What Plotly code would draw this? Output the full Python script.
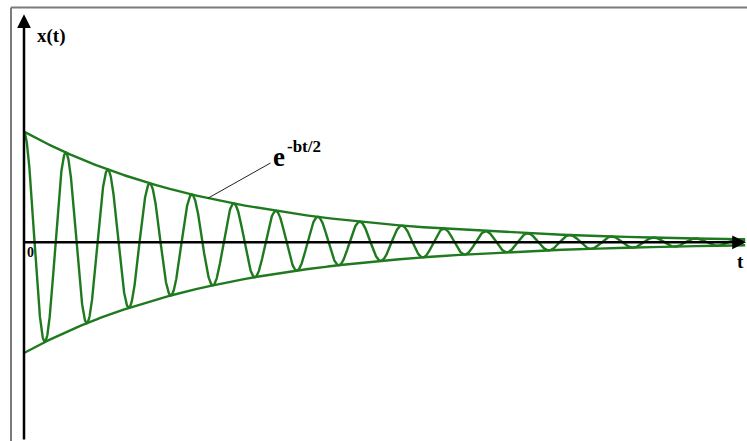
import numpy as np
import plotly.graph_objects as go

# Damped oscillator: x(t) = A * exp(-b t / 2) * cos(2*pi*t / T)
AMPLITUDE = 1.0      # initial amplitude A
DAMPING_B = 0.42     # damping constant b
PERIOD = 1.0         # oscillation period T
T_END = 17.17        # last time drawn

# Axis labels and annotation text
AXIS_LABEL_Y = "x(t)"
AXIS_LABEL_X = "t"
ORIGIN_LABEL = "0"
ENVELOPE_BASE = "e"
ENVELOPE_EXP = "-bt/2"
ENVELOPE_POINTER_T = 4.38   # where the leader line touches the envelope

# Visible window (time units / displacement units)
X_RANGE = [-0.5714, 17.214]
Y_RANGE = [-1.795, 2.189]

GREEN = "#1f7a1f"
SERIF = "Liberation Serif"

t = np.linspace(0.0, T_END, 4000)
envelope = AMPLITUDE * np.exp(-DAMPING_B * t / 2.0)
x = envelope * np.cos(2.0 * np.pi * t / PERIOD)

fig = go.Figure()

# oscillation
fig.add_trace(go.Scatter(x=t, y=x, mode="lines",
                         line=dict(color=GREEN, width=2.4), hoverinfo="skip"))
# upper and lower envelope
fig.add_trace(go.Scatter(x=t, y=envelope, mode="lines",
                         line=dict(color=GREEN, width=2.4), hoverinfo="skip"))
fig.add_trace(go.Scatter(x=t, y=-envelope, mode="lines",
                         line=dict(color=GREEN, width=2.4), hoverinfo="skip"))

annotations = []

# axes drawn as arrows
annotations.append(dict(x=17.19, y=0, ax=-0.048, ay=0, xref="x", yref="y",
                        axref="x", ayref="y", showarrow=True, arrowhead=2,
                        arrowsize=1.1, arrowwidth=2.5, arrowcolor="black",
                        text="", standoff=0, startstandoff=0))
annotations.append(dict(x=0, y=2.06, ax=0, ay=Y_RANGE[0], xref="x", yref="y",
                        axref="x", ayref="y", showarrow=True, arrowhead=2,
                        arrowsize=1.1, arrowwidth=2.5, arrowcolor="black",
                        text="", standoff=0, startstandoff=0))

# axis labels
annotations.append(dict(x=0.25, y=1.868, xref="x", yref="y", text=AXIS_LABEL_Y,
                        showarrow=False, xanchor="left", yanchor="middle",
                        font=dict(family=SERIF, size=19, color="black", weight="bold")))
annotations.append(dict(x=0.143, y=-0.09, xref="x", yref="y", text=ORIGIN_LABEL,
                        showarrow=False, xanchor="center", yanchor="middle",
                        font=dict(family=SERIF, size=14, color="black", weight="bold")))
annotations.append(dict(x=17.05, y=-0.175, xref="x", yref="y", text=AXIS_LABEL_X,
                        showarrow=False, xanchor="center", yanchor="middle",
                        font=dict(family=SERIF, size=19, color="black", weight="bold")))

# envelope label with leader line
env_pt = AMPLITUDE * np.exp(-DAMPING_B * ENVELOPE_POINTER_T / 2.0)
annotations.append(dict(x=ENVELOPE_POINTER_T, y=env_pt, xref="x", yref="y",
                        ax=64, ay=-36, text="", showarrow=True, arrowhead=0,
                        arrowwidth=1, arrowcolor="#222222", standoff=0))
annotations.append(dict(x=(287 - 24) / 42, y=(242.3 - 156.5) / 110.7, xref="x", yref="y",
                        text=ENVELOPE_BASE, showarrow=False,
                        xanchor="right", yanchor="middle",
                        font=dict(family=SERIF, size=27, color="black", weight="bold")))
annotations.append(dict(x=(285 - 24) / 42, y=(242.3 - 146.5) / 110.7, xref="x", yref="y",
                        text=ENVELOPE_EXP, showarrow=False,
                        xanchor="left", yanchor="middle",
                        font=dict(family=SERIF, size=17, color="black", weight="bold")))

# frame around the figure
fx = 11 / 747
fy = 1 - 7.5 / 441
shapes = [
    dict(type="line", xref="paper", yref="paper", x0=fx, y0=fy, x1=1.01, y1=fy,
         line=dict(color="#7b7b7b", width=2)),
    dict(type="line", xref="paper", yref="paper", x0=fx, y0=fy, x1=fx, y1=-0.01,
         line=dict(color="#7b7b7b", width=2)),
]

fig.update_layout(
    width=747, height=441,
    margin=dict(l=0, r=0, t=0, b=0),
    paper_bgcolor="white", plot_bgcolor="white",
    showlegend=False,
    xaxis=dict(range=X_RANGE, visible=False, fixedrange=True),
    yaxis=dict(range=Y_RANGE, visible=False, fixedrange=True),
    annotations=annotations,
    shapes=shapes,
)

fig.write_html("out.html", config={"displayModeBar": False})
